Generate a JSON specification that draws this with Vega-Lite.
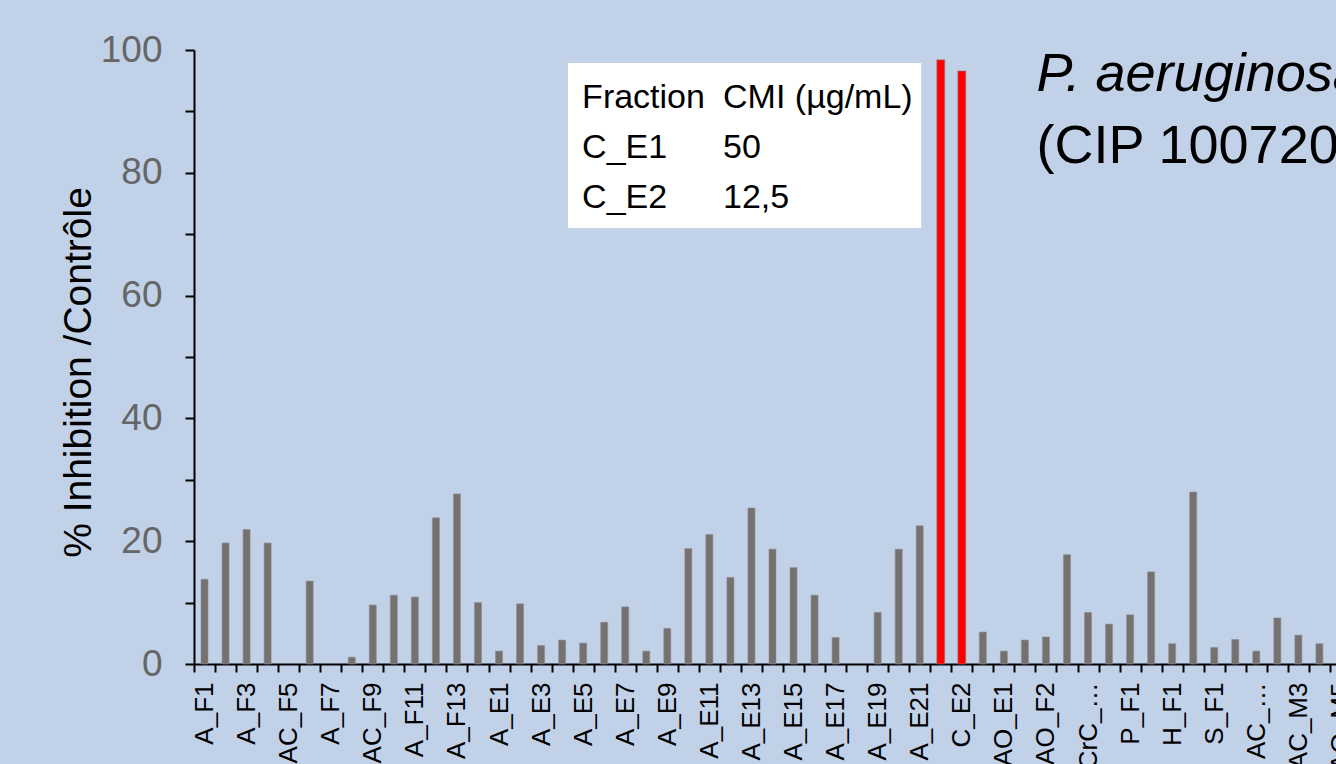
{
  "$schema": "https://vega.github.io/schema/vega-lite/v6.json",
  "autosize": {"type": "none"},
  "width": 1142,
  "height": 614,
  "padding": {"left": 194, "top": 50, "right": 0, "bottom": 100},
  "background": "#c0d1e8",
  "config": {
    "font": "Liberation Sans",
    "view": {"stroke": null},
    "axis": {"grid": false}
  },
  "datasets": {
    "main": [
      {"Fraction": "A_F1", "Inhibition": 13.8},
      {"Fraction": "A_F2", "Inhibition": 19.7},
      {"Fraction": "A_F3", "Inhibition": 21.9},
      {"Fraction": "A_F4", "Inhibition": 19.7},
      {"Fraction": "AC_F5", "Inhibition": 0},
      {"Fraction": "A_F6", "Inhibition": 13.5},
      {"Fraction": "A_F7", "Inhibition": 0},
      {"Fraction": "A_F8", "Inhibition": 1.1},
      {"Fraction": "AC_F9", "Inhibition": 9.6},
      {"Fraction": "A_F10", "Inhibition": 11.2},
      {"Fraction": "A_F11", "Inhibition": 10.9},
      {"Fraction": "A_F12", "Inhibition": 23.8},
      {"Fraction": "A_F13", "Inhibition": 27.7},
      {"Fraction": "A_F14", "Inhibition": 10.0},
      {"Fraction": "A_E1", "Inhibition": 2.1},
      {"Fraction": "A_E2", "Inhibition": 9.8},
      {"Fraction": "A_E3", "Inhibition": 3.0},
      {"Fraction": "A_E4", "Inhibition": 3.9},
      {"Fraction": "A_E5", "Inhibition": 3.4},
      {"Fraction": "A_E6", "Inhibition": 6.8},
      {"Fraction": "A_E7", "Inhibition": 9.3},
      {"Fraction": "A_E8", "Inhibition": 2.1},
      {"Fraction": "A_E9", "Inhibition": 5.8},
      {"Fraction": "A_E10", "Inhibition": 18.8},
      {"Fraction": "A_E11", "Inhibition": 21.1},
      {"Fraction": "A_E12", "Inhibition": 14.1},
      {"Fraction": "A_E13", "Inhibition": 25.4},
      {"Fraction": "A_E14", "Inhibition": 18.7},
      {"Fraction": "A_E15", "Inhibition": 15.7},
      {"Fraction": "A_E16", "Inhibition": 11.2},
      {"Fraction": "A_E17", "Inhibition": 4.3},
      {"Fraction": "A_E18", "Inhibition": 0},
      {"Fraction": "A_E19", "Inhibition": 8.4},
      {"Fraction": "A_E20", "Inhibition": 18.7},
      {"Fraction": "A_E21", "Inhibition": 22.5},
      {"Fraction": "C_E1", "Inhibition": 98.4},
      {"Fraction": "C_E2", "Inhibition": 96.6},
      {"Fraction": "C_E3", "Inhibition": 5.2},
      {"Fraction": "AO_E1", "Inhibition": 2.1},
      {"Fraction": "AO_E2", "Inhibition": 3.9},
      {"Fraction": "AO_F2", "Inhibition": 4.4},
      {"Fraction": "AO_F3", "Inhibition": 17.8},
      {"Fraction": "CrC_…", "Inhibition": 8.4},
      {"Fraction": "CrC_E2", "Inhibition": 6.5},
      {"Fraction": "P_F1", "Inhibition": 8.0},
      {"Fraction": "P_E1", "Inhibition": 15.0},
      {"Fraction": "H_F1", "Inhibition": 3.3},
      {"Fraction": "H_E1", "Inhibition": 28.0},
      {"Fraction": "S_F1", "Inhibition": 2.7},
      {"Fraction": "S_E1", "Inhibition": 4.0},
      {"Fraction": "AC_…", "Inhibition": 2.1},
      {"Fraction": "AC_M2", "Inhibition": 7.5},
      {"Fraction": "AC_M3", "Inhibition": 4.7},
      {"Fraction": "AC_M4", "Inhibition": 3.3},
      {"Fraction": "AO_M5", "Inhibition": 5.0},
      {"Fraction": "AO_M6", "Inhibition": 3.0}
    ],
    "cmi": [
      {"Fraction": "C_E1", "CMI": "50"},
      {"Fraction": "C_E2", "CMI": "12,5"}
    ]
  },
  "layer": [
    {
      "data": {"name": "main"},
      "transform": [{"filter": "datum.Inhibition > 0"}],
      "mark": {"type": "bar", "stroke": "#8f8c8c", "strokeWidth": 0.6},
      "encoding": {
        "x": {
          "field": "Fraction",
          "type": "nominal",
          "sort": null,
          "scale": {"domain": {"data": "main", "field": "Fraction"}, "range": [0, 1178], "paddingInner": 0, "paddingOuter": 0},
          "axis": {
            "title": null,
            "labelAngle": -90,
            "labelFontSize": 26,
            "labelColor": "black",
            "labelPadding": 10,
            "labelOverlap": false,
            "tickSize": 8,
            "tickWidth": 2,
            "tickColor": "black",
            "domainColor": "black",
            "domainWidth": 2,
            "tickBand": "extent",
            "labelExpr": "indexof(['A_F1','A_F3','AC_F5','A_F7','AC_F9','A_F11','A_F13','A_E1','A_E3','A_E5','A_E7','A_E9','A_E11','A_E13','A_E15','A_E17','A_E19','A_E21','C_E2','AO_E1','AO_F2','CrC_…','P_F1','H_F1','S_F1','AC_…','AC_M3','AO_M5'], datum.value) >= 0 ? datum.label : ''"
          }
        },
        "y": {
          "field": "Inhibition",
          "type": "quantitative",
          "scale": {"domain": [0, 100], "nice": false},
          "axis": {
            "title": "% Inhibition /Contrôle",
            "values": [0, 5, 10, 15, 20, 25, 30, 35, 40, 45, 50, 55, 60, 65, 70, 75, 80, 85, 90, 95, 100],
            "labelExpr": "datum.value % 20 === 0 ? datum.label : ''",
            "labelFontSize": 37,
            "labelColor": "#666666",
            "labelPadding": 23,
            "labelOverlap": false,
            "tickSize": 9,
            "tickWidth": 2,
            "tickColor": "black",
            "domainColor": "black",
            "domainWidth": 2,
            "titleFontSize": 39,
            "titleFontWeight": "normal",
            "titleColor": "black",
            "titlePadding": 2,
            "titleY": 322
          }
        },
        "color": {
          "condition": {"test": "datum.Fraction === 'C_E1' || datum.Fraction === 'C_E2'", "value": "#ff0000"},
          "value": "#767171"
        },
        "size": {
          "condition": {"test": "datum.Fraction === 'C_E1' || datum.Fraction === 'C_E2'", "value": 8},
          "value": 7
        }
      }
    },
    {
      "data": {"values": [{}]},
      "mark": {"type": "rect", "fill": "white"},
      "encoding": {
        "x": {"datum": "A_E4", "bandPosition": 0.78},
        "x2": {"datum": "A_E21", "bandPosition": 0.57},
        "y": {"datum": 97.9},
        "y2": {"datum": 71.0}
      }
    },
    {
      "data": {"values": [{}]},
      "mark": {"type": "text", "text": "Fraction", "align": "left", "baseline": "alphabetic", "fontSize": 34, "color": "black"},
      "encoding": {
        "x": {"datum": "A_E5", "bandPosition": 0.45},
        "y": {"datum": 90.55}
      }
    },
    {
      "data": {"values": [{}]},
      "mark": {"type": "text", "text": "CMI (µg/mL)", "align": "left", "baseline": "alphabetic", "fontSize": 34, "color": "black"},
      "encoding": {
        "x": {"datum": "A_E12", "bandPosition": 0.15},
        "y": {"datum": 90.55}
      }
    },
    {
      "data": {"name": "cmi"},
      "transform": [{"filter": "datum.Fraction === 'C_E1'"}],
      "mark": {"type": "text", "align": "left", "baseline": "alphabetic", "fontSize": 34, "color": "black"},
      "encoding": {
        "x": {"datum": "A_E5", "bandPosition": 0.45},
        "y": {"datum": 82.4},
        "text": {"field": "Fraction"}
      }
    },
    {
      "data": {"name": "cmi"},
      "transform": [{"filter": "datum.Fraction === 'C_E1'"}],
      "mark": {"type": "text", "align": "left", "baseline": "alphabetic", "fontSize": 34, "color": "black"},
      "encoding": {
        "x": {"datum": "A_E12", "bandPosition": 0.15},
        "y": {"datum": 82.4},
        "text": {"field": "CMI"}
      }
    },
    {
      "data": {"name": "cmi"},
      "transform": [{"filter": "datum.Fraction === 'C_E2'"}],
      "mark": {"type": "text", "align": "left", "baseline": "alphabetic", "fontSize": 34, "color": "black"},
      "encoding": {
        "x": {"datum": "A_E5", "bandPosition": 0.45},
        "y": {"datum": 74.3},
        "text": {"field": "Fraction"}
      }
    },
    {
      "data": {"name": "cmi"},
      "transform": [{"filter": "datum.Fraction === 'C_E2'"}],
      "mark": {"type": "text", "align": "left", "baseline": "alphabetic", "fontSize": 34, "color": "black"},
      "encoding": {
        "x": {"datum": "A_E12", "bandPosition": 0.15},
        "y": {"datum": 74.3},
        "text": {"field": "CMI"}
      }
    },
    {
      "data": {"values": [{}]},
      "mark": {"type": "text", "text": "P. aeruginosa", "align": "left", "baseline": "alphabetic", "fontSize": 54, "fontStyle": "italic", "color": "black"},
      "encoding": {
        "x": {"datum": "AO_F2", "bandPosition": 0.05},
        "y": {"datum": 93.3}
      }
    },
    {
      "data": {"values": [{}]},
      "mark": {"type": "text", "text": "(CIP 100720)", "align": "left", "baseline": "alphabetic", "fontSize": 54, "color": "black"},
      "encoding": {
        "x": {"datum": "AO_F2", "bandPosition": 0.05},
        "y": {"datum": 81.6}
      }
    }
  ]
}
